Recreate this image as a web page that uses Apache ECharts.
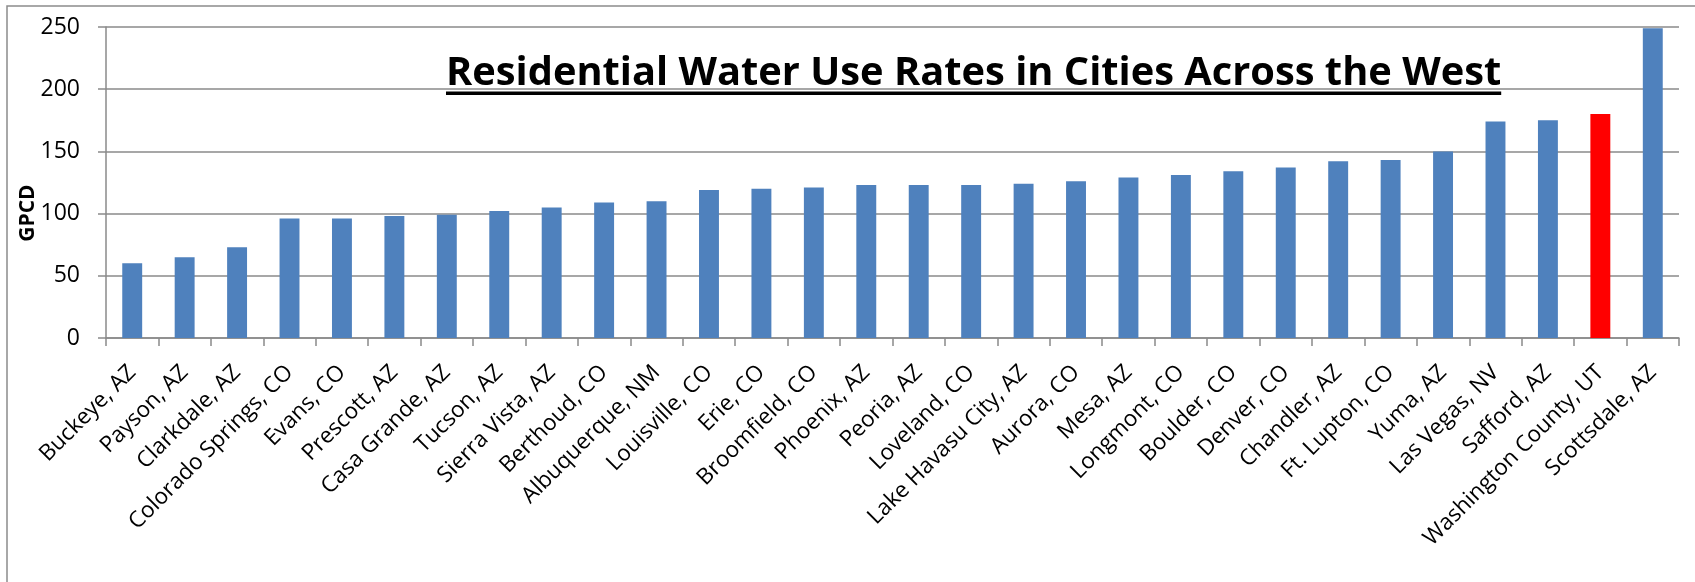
<!DOCTYPE html>
<html>
<head>
<meta charset="utf-8">
<script src="https://cdn.jsdelivr.net/npm/echarts@6/dist/echarts.min.js"></script>
<style>
html,body{margin:0;padding:0;background:#fff;}
#chart{width:1695px;height:582px;}
</style>
</head>
<body>
<div id="chart"></div>
<script>
const cities = ["Buckeye, AZ","Payson, AZ","Clarkdale, AZ","Colorado Springs, CO","Evans, CO","Prescott, AZ","Casa Grande, AZ","Tucson, AZ","Sierra Vista, AZ","Berthoud, CO","Albuquerque, NM","Louisville, CO","Erie, CO","Broomfield, CO","Phoenix, AZ","Peoria, AZ","Loveland, CO","Lake Havasu City, AZ","Aurora, CO","Mesa, AZ","Longmont, CO","Boulder, CO","Denver, CO","Chandler, AZ","Ft. Lupton, CO","Yuma, AZ","Las Vegas, NV","Safford, AZ","Washington County, UT","Scottsdale, AZ"];
const gpcd = [60,65,73,96,96,98,99,102,105,109,110,119,120,121,123,123,123,124,126,129,131,134,137,142,143,150,174,175,180,249];
const highlightCity = "Washington County, UT";
const titleText = "Residential Water Use Rates in Cities Across the West";
const yAxisTitle = "GPCD";
const yTicks = {min:0, max:250, interval:50};

const chart = echarts.init(document.getElementById('chart'), null, {renderer:'canvas'});

const fontFamily = '"Open Sans", "DejaVu Sans", sans-serif';
const cv = document.createElement('canvas').getContext('2d');
function widthAt100(txt, weight){
  cv.font = weight + ' 100px ' + fontFamily;
  return cv.measureText(txt).width;
}
// title sized to the reference width
const titleSize = Math.round(100 * 1056 / widthAt100(titleText, 'bold') * 10) / 10;
cv.font = 'bold ' + titleSize + 'px ' + fontFamily;
const titleW = cv.measureText(titleText).width;
const titleLeft = 446;
// category labels sized to the reference width of the longest label
const labelSize = Math.round(100 * 245 / widthAt100("Washington County, UT", 'normal') * 10) / 10;

const gridColor = '#8a8a8a';

chart.setOption({
  animation:false,
  backgroundColor:'#ffffff',
  grid:{left:106, right:16, top:27, bottom:244, containLabel:false},
  xAxis:{
    type:'category',
    data:cities,
    boundaryGap:true,
    axisLine:{lineStyle:{color:gridColor, width:1.5}},
    axisTick:{show:true, interval:0, length:8, lineStyle:{color:gridColor, width:1.5}},
    axisLabel:{interval:0, rotate:45, margin:31, color:'#000', fontSize:labelSize, fontFamily:fontFamily}
  },
  yAxis:{
    type:'value',
    min:yTicks.min, max:yTicks.max, interval:yTicks.interval,
    axisLine:{show:true, lineStyle:{color:gridColor, width:1.5}},
    axisTick:{show:true, length:8, lineStyle:{color:gridColor, width:1.5}},
    splitLine:{show:true, lineStyle:{color:gridColor, width:1.5}},
    axisLabel:{margin:26, color:'#000', fontSize:23, fontFamily:fontFamily}
  },
  series:[{
    type:'bar',
    data:gpcd,
    barWidth:'38%',
    itemStyle:{
      color:function(p){ return p.name === highlightCity ? '#ff0000' : '#4f81bd'; }
    }
  }],
  graphic:[
    {type:'rect', z:-10, silent:true, shape:{x:7, y:6, width:1720, height:620}, style:{fill:'none', stroke:'#8c8c8c', lineWidth:1.5}},
    {type:'text', z:100, x:titleLeft, y:74, style:{text:titleText, font:'bold ' + titleSize + 'px ' + fontFamily, fill:'#000', textAlign:'left', textVerticalAlign:'middle'}},
    {type:'rect', z:100, shape:{x:titleLeft, y:91.5, width:titleW, height:3.5}, style:{fill:'#000'}},
    {type:'text', z:100, x:28, y:213, rotation:Math.PI/2, style:{text:yAxisTitle, font:'bold 21px ' + fontFamily, fill:'#000', textAlign:'center', textVerticalAlign:'middle'}}
  ]
});
</script>
</body>
</html>
